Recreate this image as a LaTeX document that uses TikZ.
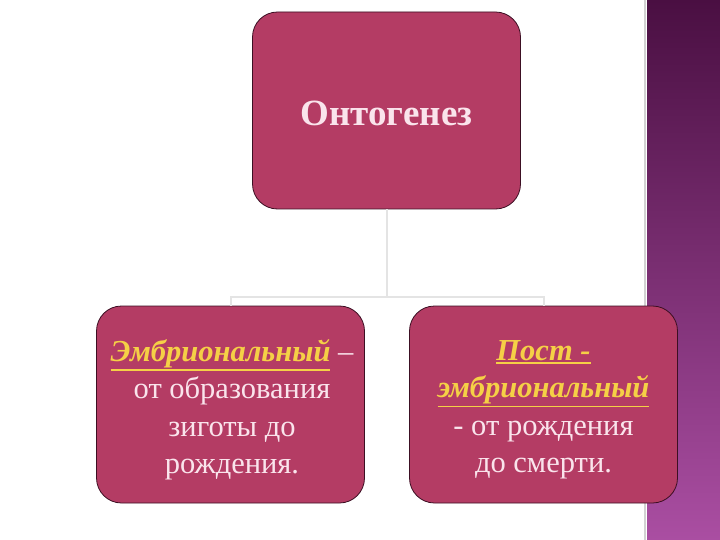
\documentclass[tikz,border=0pt]{standalone}
\usepackage{fontspec}
\setmainfont{Liberation Serif}
\definecolor{boxc}{RGB}{180,60,100}
\definecolor{boxline}{RGB}{60,15,35}
\definecolor{txt}{RGB}{250,228,236}
\definecolor{yel}{RGB}{245,208,70}
\definecolor{stripTop}{RGB}{74,15,66}
\definecolor{stripBot}{RGB}{170,78,162}
\definecolor{conn}{RGB}{228,228,228}
\newcommand\yul[1]{{\color{yel}\bfseries\itshape\leavevmode\vtop{\hbox{#1}\kern1.2pt\hrule height 1.6pt}}}
\begin{document}
\begin{tikzpicture}[x=1pt,y=-1pt,
  box/.style={draw=boxline, line width=0.8pt, fill=boxc, rounded corners=25pt,
    minimum width=268pt, minimum height=197pt, inner sep=0pt},
  boxtext/.style={align=center, text=txt, inner sep=0pt, font=\fontsize{30.5}{37.5}\selectfont},
  connline/.style={draw=conn, line width=2pt}]
\useasboundingbox (0,0) rectangle (720,540);
\fill[white] (0,0) rectangle (720,540);
\shade[top color=stripTop, bottom color=stripBot] (647,0) rectangle (720,540);
\fill[gray!35] (643.5,0) rectangle (646,540);
\node[box] (top) at (386.5,110.5) {};
\node[box] (left) at (230.5,404.5) {};
\node[box] (right) at (543.5,404.5) {};
\node[align=center, text=txt, inner sep=0pt, font=\fontsize{37}{44}\selectfont\bfseries] (toptext) at (386.5,113) {Онтогенез};
\node[boxtext] (lefttext) at (232,410) {\yul{Эмбриональный} –\\
  от образования\\ зиготы до\\ рождения.};
\node[boxtext] (righttext) at (543.5,410) {\yul{Пост -}\\
  \yul{эмбриональный}\\
  - от рождения\\ до смерти.};
\coordinate (hub) at (386.5,297);
\draw[connline] (top.south) -- (hub) -| (left.north);
\draw[connline] (hub) -| (right.north);
\end{tikzpicture}
\end{document}
